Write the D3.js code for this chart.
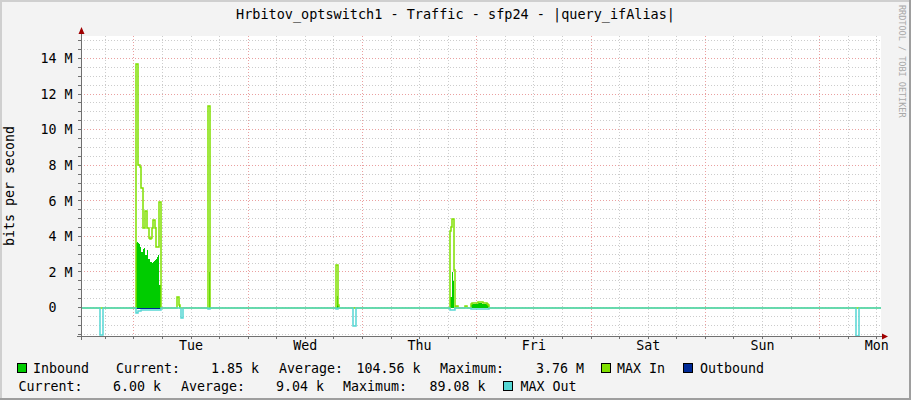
<!DOCTYPE html>
<html><head><meta charset="utf-8">
<script src="https://cdn.jsdelivr.net/npm/d3@7"></script>
<style>
html,body{margin:0;padding:0;background:#f3f3f3;}
svg{display:block;}
text{font-family:"DejaVu Sans Mono",monospace;fill:#000;}
</style></head><body>
<svg id="c" width="911" height="400"></svg>
<script>
// ---------------- DATA ----------------
const TITLE = "Hrbitov_optswitch1 - Traffic - sfp24 - |query_ifAlias|";
const Y_TITLE = "bits per second";
const WATERMARK = "RRDTOOL / TOBI OETIKER";
const STEP_SECONDS = 756;           // one RRD sample per pixel column
const TOTAL_SLOTS = 800;            // one week
const START_UTC = Date.UTC(2024, 0, 1, 13, 0, 0); // Monday 13:00
const dayLabels = ["Tue", "Wed", "Thu", "Fri", "Sat", "Sun", "Mon"];
const yTickValues = [0, 2, 4, 6, 8, 10, 12, 14]; // Mbit/s
// series as step change points: [slot, value in Mbit/s]
const inbound = [
  [0,0],
  [55,3.6],[56,3.7],[57,3.6],[58,3.55],[59,3.41],[60,3.13],[62,3.3],[63,3.35],[64,2.94],[66,3.22],[67,2.75],
  [69,2.56],[71,2.5],[72,2.56],[73,2.6],[74,2.66],[75,2.7],[76,2.84],[77,2.94],[78,1.25],[80,0],
  [98,0.13],[99,0],
  [128,2.0],[129,0],
  [256,0.65],[257,0.1],[258,0],
  [369,0.6],[371,2.0],[372,1.5],[373,0],
  [390,0.15],[391,0.22],[397,0.25],[401,0.22],[406,0.15],[407,0.1],[408,0],
  [800,0]
];
const maxIn = [
  [0,0],
  [55,13.7],[57,8.0],[59,7.9],[60,6.7],[62,4.45],[64,5.4],[66,4.45],[68,3.9],[69,3.85],[70,3.9],
  [71,4.45],[72,4.9],[74,4.45],[75,3.4],[78,5.95],[80,0],
  [96,0.58],[98,0.13],[99,0],
  [127,11.35],[129,0],
  [255,2.38],[257,0.13],[258,0],
  [369,4.3],[370,4.5],[371,5.0],[373,2.1],[374,0],
  [375,0.07],[377,0],
  [384,0.06],[386,0],
  [390,0.2],[391,0.25],[397,0.32],[402,0.27],[406,0.2],[407,0.12],[408,0],
  [800,0]
];
const outbound = [
  [0,0],
  [20,-0.05],[22,0],
  [55,-0.09],[80,0],
  [99,-0.05],[102,0],
  [110,-0.04],[112,0],
  [127,-0.05],[129,0],
  [161,-0.04],[162,0],
  [255,-0.04],[257,0],
  [272,-0.05],[276,0],
  [280,-0.04],[285,0],
  [287,-0.04],[289,0],
  [369,-0.05],[374,0],
  [390,-0.05],[392,0],[394,-0.05],[398,0],[400,-0.05],[404,0],[407,-0.05],[409,0],
  [467,-0.03],[468,0],
  [506,-0.05],[507,0],
  [522,-0.03],[523,0],
  [618,-0.05],[620,0],
  [694,-0.04],[696,0],
  [775,-0.05],[778,0],
  [800,0]
];
const maxOut = [
  [0,0],
  [19,-1.56],[22,0],
  [55,-0.33],[57,-0.2],[60,-0.13],[80,0],
  [100,-0.58],[102,0],
  [127,-0.1],[129,0],
  [161,-0.05],[162,0],
  [255,-0.1],[257,0],
  [272,-1.03],[275,0],
  [369,-0.15],[374,0],
  [390,-0.08],[408,0],
  [694,-0.05],[697,0],
  [775,-1.6],[778,0],
  [800,0]
];
const seriesNames = ["Inbound", "MAX In", "Outbound", "MAX Out"];
const seriesColors = ["#00cc00", "#80e000", "#002a97", "#55d6d3"];
const inboundStats = ["1.85 k", "104.56 k", "3.76 M"];   // current, average, maximum
const outboundStats = ["6.00 k", "9.04 k", "89.08 k"];
const statLabels = ["Current:", "Average:", "Maximum:"];

// ---------------- LAYOUT ----------------
const W = 911, H = 400;
const PL = 81, PR = 881, PT = 36, PB = 336;
const svg = d3.select("#c");

svg.append("rect").attr("width", W).attr("height", H).attr("fill", "#f3f3f3");
svg.append("rect").attr("x", 0).attr("y", 0).attr("width", W).attr("height", 2).attr("fill", "#cfcfcf");
svg.append("rect").attr("x", 0).attr("y", 0).attr("width", 2).attr("height", H).attr("fill", "#cfcfcf");
svg.append("rect").attr("x", W - 2).attr("y", 0).attr("width", 2).attr("height", H).attr("fill", "#9e9e9e");
svg.append("rect").attr("x", 0).attr("y", H - 2).attr("width", W).attr("height", 2).attr("fill", "#9e9e9e");
svg.append("rect").attr("x", PL).attr("y", PT).attr("width", PR - PL).attr("height", PB - PT).attr("fill", "#fff");

const slotDate = s => new Date(START_UTC + s * STEP_SECONDS * 1000);
const x = d3.scaleUtc().domain([slotDate(0), slotDate(TOTAL_SLOTS)]).range([PL, PR]);
const y = d3.scaleLinear().domain([-1.602, 15.265]).range([PB, PT]);
const py = v => Math.floor(y(v)) + 0.5;
const px = d => Math.round(x(d)) + 0.5;

// grid
const grid = svg.append("g").attr("shape-rendering", "crispEdges");
const minorY = d3.range(-1.5, 15.01, 0.5).filter(v => !(v >= 0 && v <= 14 && Math.abs(v % 2) < 1e-9));
const GRID_C = "#cccccc", MGRID_C = "#eaa0a0";
grid.selectAll(".hmin").data(minorY).join("line")
  .attr("x1", PL).attr("x2", PR).attr("y1", py).attr("y2", py)
  .attr("stroke", GRID_C).attr("stroke-dasharray", "1,2");
const [d0, d1] = x.domain();
const minorX = d3.utcHour.every(6).range(d0, d1).filter(d => d.getUTCHours() !== 0);
const majorX = d3.utcDay.range(d0, d1);
grid.selectAll(".vmin").data(minorX).join("line")
  .attr("x1", px).attr("x2", px).attr("y1", PT).attr("y2", PB)
  .attr("stroke", GRID_C).attr("stroke-dasharray", "1,2");
grid.selectAll(".hmaj").data(yTickValues).join("line")
  .attr("x1", PL).attr("x2", PR).attr("y1", py).attr("y2", py)
  .attr("stroke", MGRID_C).attr("stroke-dasharray", "1,2");
grid.selectAll(".vmaj").data(majorX).join("line")
  .attr("x1", px).attr("x2", px).attr("y1", PT).attr("y2", PB)
  .attr("stroke", MGRID_C).attr("stroke-dasharray", "1,2");

// data
svg.append("clipPath").attr("id", "clip").append("rect").attr("x", PL).attr("y", PT).attr("width", PR - PL).attr("height", PB - PT);
const plot = svg.append("g").attr("clip-path", "url(#clip)");
const xs = d => x(slotDate(d[0]));
const areaGen = d3.area().x(xs).y0(y(0)).y1(d => y(d[1])).curve(d3.curveStepAfter);
const lineGen = d3.line().x(xs).y(d => Math.round(y(d[1]))).curve(d3.curveStepAfter);
plot.append("path").datum(inbound).attr("d", areaGen).attr("fill", seriesColors[0]).attr("shape-rendering", "crispEdges");
plot.append("path").datum(outbound).attr("d", areaGen).attr("fill", seriesColors[2]).attr("shape-rendering", "crispEdges");
plot.append("path").datum(maxIn).attr("d", lineGen).attr("fill", "none").attr("stroke", seriesColors[1]).attr("stroke-width", 1.5);
plot.append("path").datum(maxOut).attr("d", lineGen).attr("fill", "none").attr("stroke", seriesColors[3]).attr("stroke-width", 1.5);

// axes ticks
const AX_C = "#707070";
const ax = svg.append("g").attr("shape-rendering", "crispEdges");
ax.selectAll(".yt").data(minorY.concat(yTickValues)).join("line")
  .attr("x1", PL - 3).attr("x2", PL).attr("y1", py).attr("y2", py)
  .attr("stroke", AX_C);
ax.selectAll(".xt").data(minorX.concat(majorX)).join("line")
  .attr("x1", px).attr("x2", px).attr("y1", PB).attr("y2", PB + 3)
  .attr("stroke", AX_C);
ax.append("line").attr("x1", PL + 0.5).attr("x2", PL + 0.5).attr("y1", PB + 4).attr("y2", PT - 4).attr("stroke", AX_C);
ax.append("line").attr("x1", PL - 4).attr("x2", PR + 2).attr("y1", PB + 0.5).attr("y2", PB + 0.5).attr("stroke", AX_C);
svg.append("path").attr("d", `M${PL - 2.5},${PT - 2} L${PL + 3.5},${PT - 2} L${PL + 0.5},${PT - 9} Z`).attr("fill", "#a00000");
svg.append("path").attr("d", `M${PR + 1},${PB - 2.5} L${PR + 1},${PB + 3.5} L${PR + 7},${PB + 0.5} Z`).attr("fill", "#a00000");

// y axis labels
const yAxis = d3.axisLeft(y).tickValues(yTickValues).tickSize(0).tickPadding(0)
  .tickFormat(d => d === 0 ? "0\u00a0\u00a0" : d + "\u00a0M");
const yg = svg.append("g").attr("transform", `translate(${PL - 8.5},0)`).call(yAxis);
yg.select(".domain").remove();
yg.selectAll("text").attr("font-family", "DejaVu Sans Mono").attr("font-size", "13.3px").attr("fill", "#000");

// x axis labels (at noon)
const noonTicks = d3.utcDay.range(d0, d1).map(d => d3.utcHour.offset(d, 12));
const xAxis = d3.axisBottom(x).tickValues(noonTicks).tickSize(0).tickPadding(0)
  .tickFormat((d, i) => dayLabels[i]);
const xg = svg.append("g").attr("transform", `translate(0,${PB + 5})`).call(xAxis);
xg.select(".domain").remove();
xg.selectAll("text").attr("font-family", "DejaVu Sans Mono").attr("font-size", "13.3px").attr("fill", "#000");

// titles
svg.append("text").attr("x", W / 2).attr("y", 19).attr("text-anchor", "middle").attr("font-size", "13.5px").text(TITLE);
svg.append("text").attr("transform", "translate(14,186) rotate(-90)").attr("text-anchor", "middle").attr("font-size", "13.3px").text(Y_TITLE);
svg.append("text").attr("transform", "translate(898.5,5) rotate(90)").attr("font-size", "8.5px").style("fill", "#a8a8a8").text(WATERMARK);

// legend
const lg = svg.append("g").attr("font-size", "13.3px");
function swatch(xp, yc, color) {
  lg.append("rect").attr("x", xp + 0.5).attr("y", yc - 4.5).attr("width", 9).attr("height", 9)
    .attr("fill", color).attr("stroke", "#000").attr("stroke-width", 1).attr("shape-rendering", "crispEdges");
}
function txt(xp, yb, s, anchor) {
  lg.append("text").attr("x", xp).attr("y", yb).attr("text-anchor", anchor || "start").text(s);
}
const r1 = 368, r2 = 386, bo = 4.6;
swatch(17, r1, seriesColors[0]); txt(33, r1 + bo, seriesNames[0]);
txt(116, r1 + bo, statLabels[0]); txt(259, r1 + bo, inboundStats[0], "end");
txt(279, r1 + bo, statLabels[1]); txt(420.5, r1 + bo, inboundStats[1], "end");
txt(440, r1 + bo, statLabels[2]); txt(584, r1 + bo, inboundStats[2], "end");
swatch(601, r1, seriesColors[1]); txt(617, r1 + bo, seriesNames[1]);
swatch(683, r1, seriesColors[2]); txt(700, r1 + bo, seriesNames[2]);
txt(18.5, r2 + bo, statLabels[0]); txt(161, r2 + bo, outboundStats[0], "end");
txt(181, r2 + bo, statLabels[1]); txt(324, r2 + bo, outboundStats[1], "end");
txt(343, r2 + bo, statLabels[2]); txt(485.5, r2 + bo, outboundStats[2], "end");
swatch(503, r2, seriesColors[3]); txt(520.5, r2 + bo, seriesNames[3]);
</script>
</body></html>
